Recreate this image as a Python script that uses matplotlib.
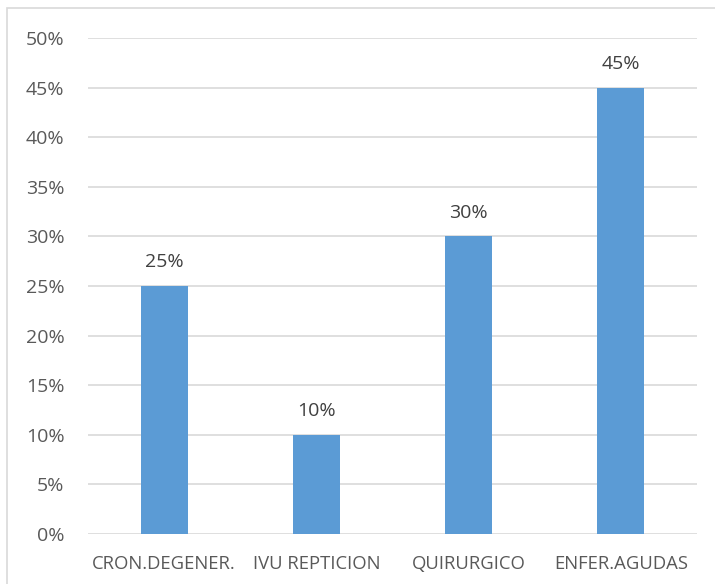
import matplotlib.pyplot as plt
from matplotlib.patches import Rectangle
from matplotlib.ticker import FuncFormatter

# categories and share of cases (%)
categorias = ["CRON.DEGENER.", "IVU REPTICION", "QUIRURGICO", "ENFER.AGUDAS"]
porcentajes = [25, 10, 30, 45]
ticks_y = [0, 5, 10, 15, 20, 25, 30, 35, 40, 45, 50]

plt.rcParams['font.family'] = ['Open Sans', 'DejaVu Sans']
gris = '#595959'

fig = plt.figure(figsize=(7.15, 5.84), dpi=100)
ax = fig.add_axes([88/715, 50/584, 609/715, 496/584])

ax.bar(range(len(categorias)), porcentajes, width=0.31, color='#5B9BD5', zorder=3)
for i, v in enumerate(porcentajes):
    ax.text(i, v + 1.5, f"{v}%", ha='center', va='bottom', fontsize=14, color='#404040')

ax.set_xlim(-0.5, len(categorias) - 0.5)
ax.set_ylim(0, 50)
ax.set_yticks(ticks_y)
ax.yaxis.set_major_formatter(FuncFormatter(lambda v, p: f"{v:.0f}%"))
ax.set_xticks(range(len(categorias)))
ax.set_xticklabels(categorias, fontsize=13.3)
ax.tick_params(axis='both', length=0, colors=gris)
ax.tick_params(axis='y', pad=17, labelsize=14)
ax.tick_params(axis='x', pad=15)
ax.grid(axis='y', color='#D9D9D9', linewidth=1.2, zorder=0)
for s in ax.spines.values():
    s.set_visible(False)

# chart frame
fig.patches.append(Rectangle((7/715, -0.1), 1.1, (584 - 8)/584 + 0.1,
                             transform=fig.transFigure, fill=False,
                             edgecolor='#D9D9D9', linewidth=1.2))

fig.savefig('out.png', dpi=100)
